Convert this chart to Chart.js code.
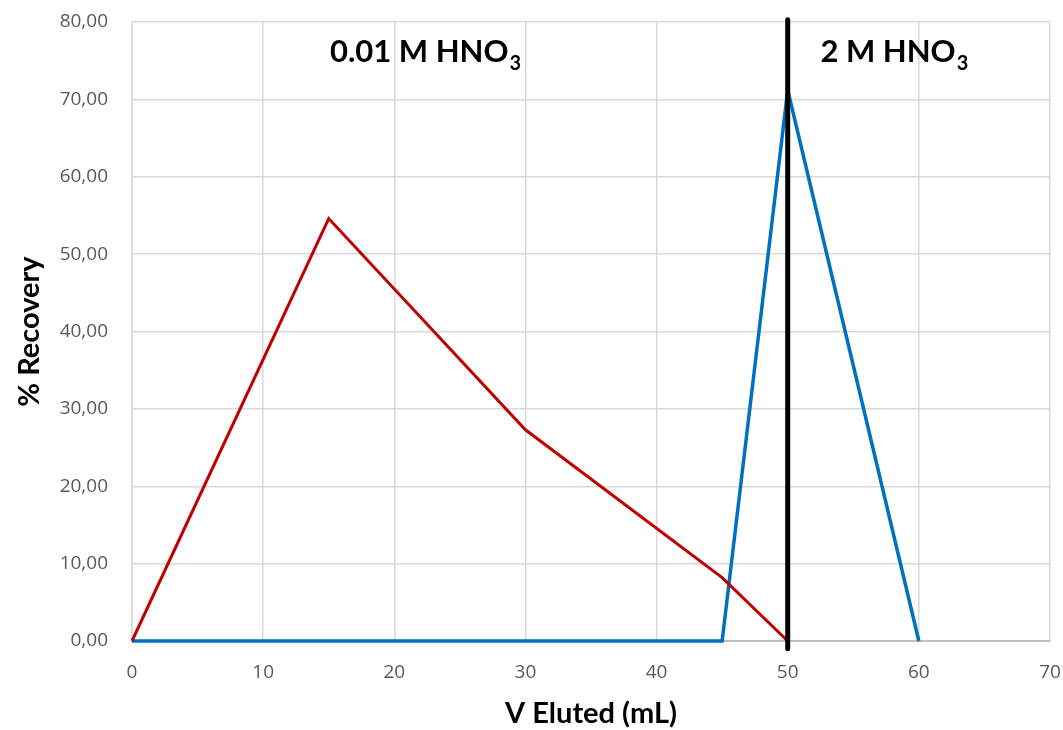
<!doctype html>
<html lang="en">
  <head>
    <meta charset="utf-8">
    <title>Elution profile</title>
    <style>
      * { margin: 0; padding: 0; }
      body { background: #ffffff; }
      .chartBox { width: 1063px; height: 730px; }
    </style>
  </head>
  <body>
    <div class="chartBox">
      <canvas id="myChart"></canvas>
    </div>
    <script src="https://cdn.jsdelivr.net/npm/chart.js"></script>
    <script>
    // data
    const redX = [0, 15, 30, 45, 50];
    const redY = [0, 54.6, 27.3, 8.2, 0];
    const blueX = [0, 45, 50, 60];
    const blueY = [0, 0, 71.2, 0];
    const splitX = [50, 50];
    const splitY = [-1, 80.3];
    const labels = [
      { text: '0.01 M HNO', sub: '3', x: 15.1, y: 74.8 },
      { text: '2 M HNO', sub: '3', x: 52.5, y: 74.8 }
    ];

    const pts = (xs, ys) => xs.map((x, i) => ({ x: x, y: ys[i] }));

    // writes the two eluent labels with subscript 3
    const eluentLabels = {
      id: 'eluentLabels',
      afterDatasetsDraw(chart) {
        const ctx = chart.ctx;
        const xs = chart.scales.x, ys = chart.scales.y;
        ctx.save();
        ctx.fillStyle = '#000000';
        ctx.textBaseline = 'alphabetic';
        ctx.textAlign = 'left';
        labels.forEach(l => {
          const px = xs.getPixelForValue(l.x);
          const py = ys.getPixelForValue(l.y);
          ctx.font = 'bold 31px Lato';
          ctx.fillText(l.text, px, py);
          const w = ctx.measureText(l.text).width;
          ctx.font = 'bold 20px Lato';
          ctx.fillText(l.sub, px + w + 1, py + 8);
        });
        ctx.restore();
      }
    };

    const data = {
      datasets: [
        {
          label: 'split',
          data: pts(splitX, splitY),
          borderColor: '#000000',
          borderWidth: 5,
          borderCapStyle: 'round',
          pointRadius: 0,
          clip: false
        },
        {
          label: '0.01 M',
          data: pts(redX, redY),
          borderColor: '#C00000',
          borderWidth: 3,
          pointRadius: 0,
          clip: false
        },
        {
          label: '2 M',
          data: pts(blueX, blueY),
          borderColor: '#0070C0',
          borderWidth: 3.5,
          pointRadius: 0,
          clip: false
        }
      ]
    };

    const scales = {
      x: {
        type: 'linear',
        min: 0,
        max: 70,
        ticks: {
          stepSize: 10,
          color: '#595959',
          padding: 2,
          maxRotation: 0,
          font: { family: 'Open Sans', size: 19 }
        },
        grid: { color: '#d9d9d9', lineWidth: 1.5, drawTicks: true, tickLength: 18, tickColor: 'rgba(0,0,0,0)' },
        border: { color: '#bfbfbf', width: 2 },
        title: {
          display: true,
          text: 'V Eluted (mL)',
          color: '#000000',
          padding: { top: 0, bottom: -1 },
          font: { family: 'Lato', size: 29, weight: 'bold' }
        },
        afterFit(s) { s.height = 89; }
      },
      y: {
        min: 0,
        max: 80,
        ticks: {
          stepSize: 10,
          color: '#595959',
          padding: 3,
          font: { family: 'Open Sans', size: 19 },
          callback: v => v.toFixed(2).replace('.', ',')
        },
        grid: { color: '#d9d9d9', lineWidth: 1.5, drawTicks: true, tickLength: 21, tickColor: 'rgba(0,0,0,0)' },
        border: { color: '#d9d9d9', width: 1.5 },
        title: {
          display: true,
          text: '% Recovery',
          color: '#000000',
          padding: { top: 12, bottom: 0 },
          font: { family: 'Lato', size: 29, weight: 'bold' }
        },
        afterFit(s) { s.width = 132; }
      }
    };

    const config = {
      type: 'line',
      data,
      options: {
        responsive: true,
        maintainAspectRatio: false,
        animation: false,
        layout: { padding: { top: 22, right: 13, left: 0, bottom: 0 } },
        scales: scales,
        plugins: {
          legend: { display: false },
          tooltip: { enabled: false }
        }
      },
      plugins: [eluentLabels]
    };

    const myChart = new Chart(document.getElementById('myChart'), config);
    </script>
  </body>
</html>
